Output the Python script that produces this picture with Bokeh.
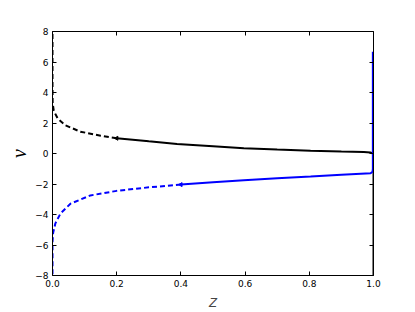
from bokeh.plotting import figure
from bokeh.models import Range1d, LinearAxis, FixedTicker
from bokeh.embed import file_html
from bokeh.resources import INLINE
import math

# ---- data ----
black_dash_z = [0.2, 0.15, 0.087, 0.04, 0.016, 0.004, 0.0005, 0.0, 0.0]
black_dash_v = [1.0, 1.17, 1.43, 1.85, 2.3, 2.8, 3.3, 4.5, 8.0]

black_solid_z = [0.2, 0.3, 0.388, 0.5, 0.596, 0.7, 0.804, 0.9, 0.97, 0.99, 0.998, 1.0, 1.0]
black_solid_v = [1.0, 0.8, 0.63, 0.48, 0.35, 0.26, 0.18, 0.13, 0.10, 0.07, 0.0, -0.2, -8.0]

blue_dash_z = [0.4, 0.3, 0.2, 0.118, 0.056, 0.025, 0.009, 0.002, 0.0, 0.0]
blue_dash_v = [-2.04, -2.22, -2.45, -2.75, -3.29, -3.93, -4.58, -5.2, -5.8, -8.0]

blue_solid_z = [0.4, 0.5, 0.596, 0.7, 0.804, 0.9, 0.991, 0.997, 0.998, 0.998]
blue_solid_v = [-2.04, -1.88, -1.75, -1.62, -1.51, -1.40, -1.30, -1.2, -1.0, 6.67]

arrow_z = [0.2, 0.4]
arrow_v = [1.0, -2.04]
arrow_colors = ["#000000", "#0000ff"]

x_ticks = [0.0, 0.2, 0.4, 0.6, 0.8, 1.0]
x_tick_labels = ["0.0", "0.2", "0.4", "0.6", "0.8", "1.0"]
y_ticks = [-8, -6, -4, -2, 0, 2, 4, 6, 8]
y_tick_labels = ["\u22128", "\u22126", "\u22124", "\u22122", "0", "2", "4", "6", "8"]

p = figure(width=415, height=312, output_backend="svg", toolbar_location=None,
           x_range=Range1d(0, 1), y_range=Range1d(-8, 8),
           min_border_left=52, min_border_right=42, min_border_top=31, min_border_bottom=32,
           x_axis_label="Z", y_axis_label="v")
p.outline_line_color = None
p.grid.visible = False
p.background_fill_color = "white"
p.border_fill_color = "white"

lw = 2
p.line(black_dash_z, black_dash_v, line_color="#000000", line_width=lw, line_dash="5 3")
p.line(black_solid_z, black_solid_v, line_color="#000000", line_width=lw)
p.line(blue_dash_z, blue_dash_v, line_color="#0000ff", line_width=lw, line_dash="5 3")
p.line(blue_solid_z, blue_solid_v, line_color="#0000ff", line_width=lw)
p.scatter(arrow_z, arrow_v, marker="triangle", size=4, angle=math.pi / 2,
          fill_color=arrow_colors, line_color=arrow_colors)

p.add_layout(LinearAxis(), "above")
p.add_layout(LinearAxis(), "right")

for ax in p.xaxis:
    ax.ticker = FixedTicker(ticks=x_ticks)
    ax.major_label_overrides = {t: l for t, l in zip(x_ticks, x_tick_labels)}
for ax in p.yaxis:
    ax.ticker = FixedTicker(ticks=y_ticks)
    ax.major_label_overrides = {t: l for t, l in zip(y_ticks, y_tick_labels)}

for ax in p.axis:
    ax.axis_line_color = "black"
    ax.axis_line_width = 1
    ax.major_tick_in = 4
    ax.major_tick_out = 0
    ax.major_tick_line_color = "black"
    ax.minor_tick_line_color = None
    ax.major_label_text_font = "DejaVu Sans"
    ax.major_label_text_font_size = "9px"
    ax.major_label_text_color = "black"
    ax.major_label_standoff = 4

p.above[0].major_label_text_alpha = 0
p.right[0].major_label_text_alpha = 0

p.xaxis[0].axis_label_text_font = "Liberation Serif"
p.xaxis[0].axis_label_text_font_style = "italic"
p.xaxis[0].axis_label_text_font_size = "17px"
p.xaxis[0].axis_label_text_color = "black"
p.xaxis[0].axis_label_standoff = -9
p.yaxis[0].axis_label_text_font = "Liberation Serif"
p.yaxis[0].axis_label_text_font_style = "italic"
p.yaxis[0].axis_label_text_font_size = "20px"
p.yaxis[0].axis_label_text_color = "black"
p.yaxis[0].axis_label_standoff = 2

open("out.html", "w").write(file_html(p, INLINE))
